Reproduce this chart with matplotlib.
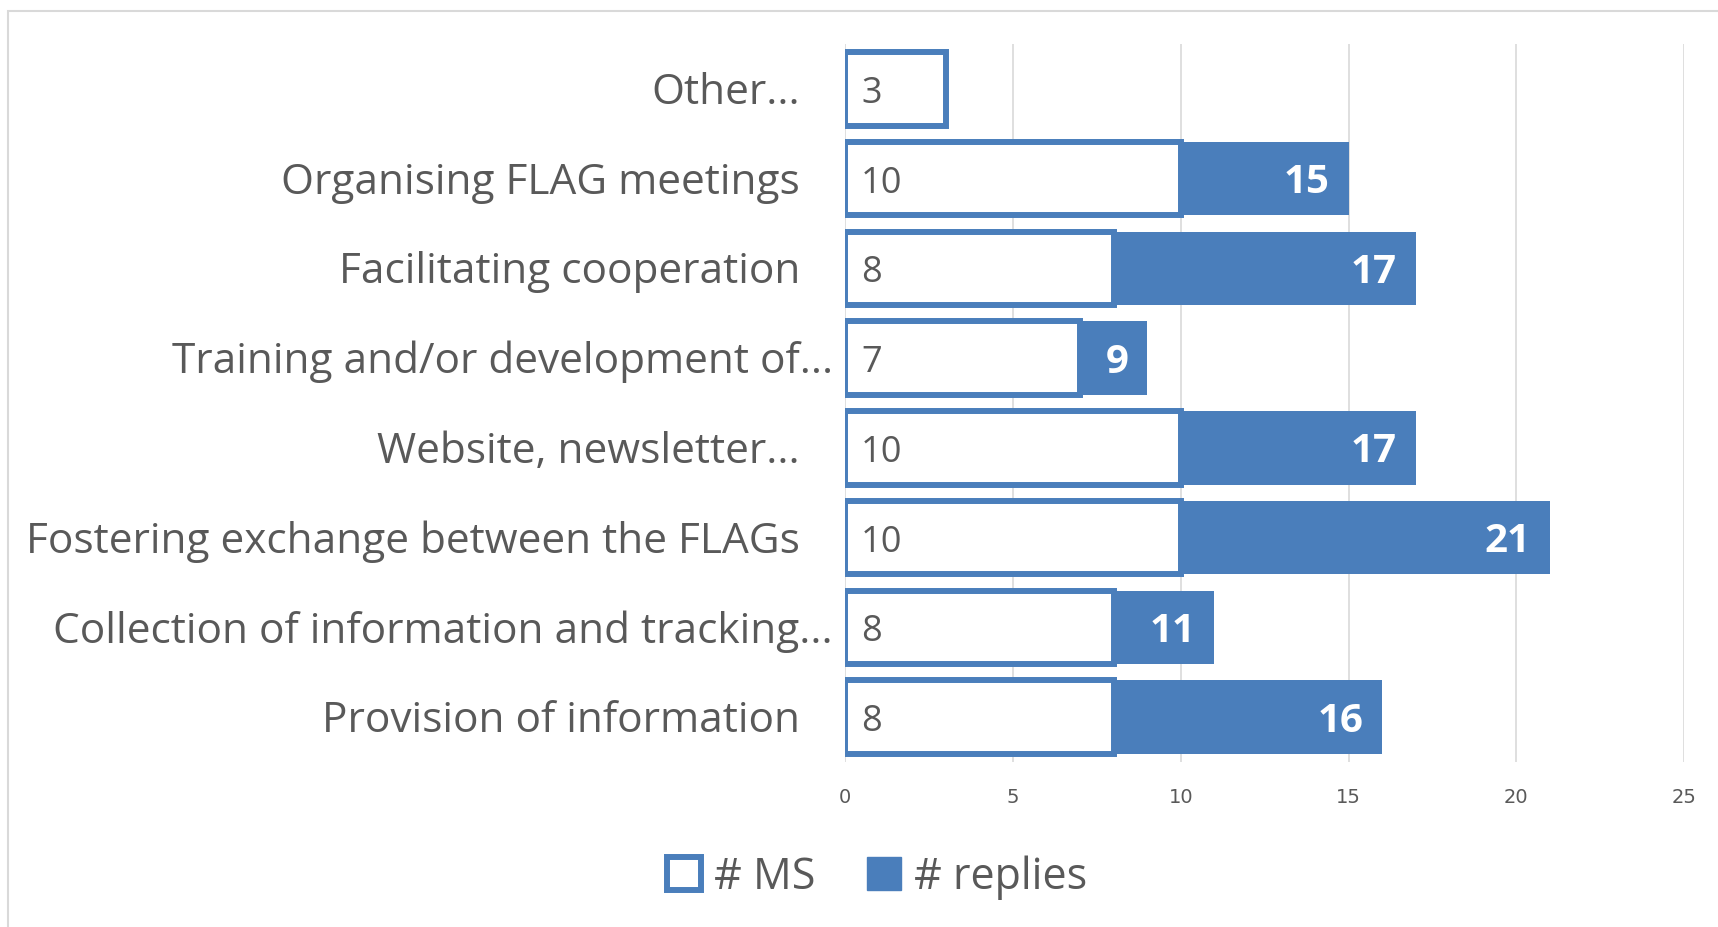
import matplotlib
matplotlib.use("Agg")
import matplotlib.pyplot as plt
from matplotlib.patches import Rectangle, Patch

categories = [
    "Other...",
    "Organising FLAG meetings",
    "Facilitating cooperation",
    "Training and/or development of...",
    "Website, newsletter...",
    "Fostering exchange between the FLAGs",
    "Collection of information and tracking...",
    "Provision of information",
]
ms_values = [3, 10, 8, 7, 10, 10, 8, 8]
replies_values = [3, 15, 17, 9, 17, 21, 11, 16]
x_ticks = [0, 5, 10, 15, 20, 25]

BLUE = "#4a7ebb"
GREY = "#595959"
FONT = "Open Sans"

fig = plt.figure(figsize=(17.18, 9.28), dpi=100)
fig.patches.append(Rectangle((8 / 1718, -0.1), 1.2, 1 - 12 / 928 + 0.1,
                             transform=fig.transFigure, fill=False,
                             edgecolor="#d9d9d9", linewidth=1.5))

ax = fig.add_axes([0.4919, 0.1778, 0.4884, 0.7737])
n = len(categories)
ypos = list(range(n))[::-1]

ax.barh(ypos, replies_values, height=0.82, color=BLUE, zorder=2)
for y, v in zip(ypos, replies_values):
    ax.annotate(str(v), (v, y), xytext=(-19, -3), textcoords="offset pixels",
                ha="right", va="center", color="white", fontsize=29,
                fontweight="bold", family=FONT, zorder=3)
ax.barh(ypos, ms_values, height=0.82, color="white", edgecolor=BLUE,
        linewidth=4.3, zorder=4)
for y, v in zip(ypos, ms_values):
    ax.annotate(str(v), (0, y), xytext=(16, -4), textcoords="offset pixels",
                ha="left", va="center", color=GREY, fontsize=26,
                family=FONT, zorder=5)

ax.set_xlim(0, 25)
ax.set_ylim(-0.5, n - 0.5)
ax.set_xticks(x_ticks)
ax.set_xticklabels([str(t) for t in x_ticks], family="Liberation Sans Narrow",
                   fontsize=14, color=GREY)
ax.tick_params(axis="x", length=0, pad=18)
ax.set_yticks([])
ax.grid(axis="x", color="#d9d9d9", linewidth=1.2, zorder=0)
ax.set_axisbelow(True)
for s in ax.spines.values():
    s.set_visible(False)

long_idx = {3, 6}
for i, (y, lab) in enumerate(zip(ypos, categories)):
    off = -12 if i in long_idx else -45
    ax.annotate(lab, (0, y), xytext=(off, -3), textcoords="offset pixels",
                ha="right", va="center", color=GREY, fontsize=30.5,
                family=FONT, annotation_clip=False)

handles = [Patch(facecolor="white", edgecolor=BLUE, linewidth=4.3, label="# MS"),
           Patch(facecolor=BLUE, edgecolor=BLUE, label="# replies")]
fig.legend(handles=handles, loc="center", bbox_to_anchor=(877 / 1718, 1 - 878 / 928),
           ncol=2, frameon=False, prop={"family": FONT, "size": 31},
           labelcolor=GREY, handlelength=0.8, handleheight=0.8,
           handletextpad=0.3, columnspacing=1.2)

fig.savefig("out.png", dpi=100, facecolor="white")
